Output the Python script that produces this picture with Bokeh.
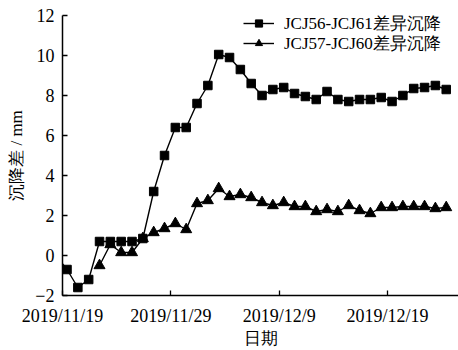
import pandas as pd
from bokeh.plotting import figure
from bokeh.models import Range1d, FixedTicker, CustomJSTickFormatter, Legend, LegendItem
from bokeh.embed import file_html
from bokeh.resources import INLINE

# ---- data ----
dates = list(pd.date_range("2019-11-18 10:00", periods=37, freq="D"))
s1_name = "JCJ56-JCJ61差异沉降"
s1_vals = [0.0, -0.7, -1.6, -1.2, 0.7, 0.7, 0.7, 0.7, 0.85, 3.2, 5.0, 6.4, 6.4, 7.6, 8.5,
           10.05, 9.9, 9.3, 8.6, 8.0, 8.3, 8.4, 8.1, 7.95, 7.8, 8.2, 7.8, 7.7, 7.8, 7.8,
           7.9, 7.7, 8.0, 8.35, 8.4, 8.5, 8.3]
s2_name = "JCJ57-JCJ60差异沉降"
s2_dates = dates[4:]
s2_vals = [-0.5, 0.55, 0.15, 0.15, 0.85, 1.15, 1.35, 1.6, 1.3, 2.6, 2.75, 3.35, 2.95, 3.05,
           2.9, 2.65, 2.5, 2.65, 2.45, 2.45, 2.2, 2.3, 2.2, 2.5, 2.25, 2.1, 2.4, 2.4, 2.45,
           2.45, 2.45, 2.35, 2.4]
x_tick_dates = ["2019-11-19", "2019-11-29", "2019-12-09", "2019-12-19"]
y_ticks = [-2, 0, 2, 4, 6, 8, 10, 12]
x_label = "日期"
y_label = "沉降差 / mm"

font = "Liberation Serif"

x_start = pd.Timestamp("2019-11-19 00:00")
x_end = x_start + pd.Timedelta(days=36.55)

p = figure(width=458, height=350, x_axis_type="datetime",
           x_range=Range1d(x_start, x_end), y_range=Range1d(-2, 12),
           output_backend="svg", toolbar_location=None,
           min_border_left=62, min_border_right=0, min_border_top=15, min_border_bottom=55)
p.outline_line_color = None
p.grid.visible = False
p.background_fill_color = "white"
p.border_fill_color = "white"

r1 = p.line(dates, s1_vals, line_color="black", line_width=1.4)
m1 = p.scatter(dates, s1_vals, marker="square", size=8.5, fill_color="black", line_color="black")
r2 = p.line(s2_dates, s2_vals, line_color="black", line_width=1.4)
m2 = p.scatter(s2_dates, s2_vals, marker="triangle", size=11, fill_color="black", line_color="black")

xt = [pd.Timestamp(d).value / 1e6 for d in x_tick_dates]
p.xaxis.ticker = FixedTicker(ticks=xt)
p.xaxis.formatter = CustomJSTickFormatter(code="""
const d = new Date(tick);
return d.getUTCFullYear() + "/" + (d.getUTCMonth() + 1) + "/" + d.getUTCDate();
""")
p.yaxis.ticker = FixedTicker(ticks=y_ticks)
p.yaxis.formatter = CustomJSTickFormatter(code="""
return tick < 0 ? "\\u2212" + Math.abs(tick) : String(tick);
""")

for ax in (p.xaxis[0], p.yaxis[0]):
    ax.axis_line_color = "black"
    ax.axis_line_width = 1.5
    ax.major_tick_in = 5
    ax.major_tick_out = 0
    ax.major_tick_line_color = "black"
    ax.major_tick_line_width = 1.3
    ax.minor_tick_line_color = None
    ax.major_label_text_font = font
    ax.major_label_text_font_size = "18px"
    ax.major_label_text_color = "black"
    ax.axis_label_text_font = font
    ax.axis_label_text_font_size = "17px"
    ax.axis_label_text_font_style = "normal"
    ax.axis_label_text_color = "black"

p.xaxis.axis_label = x_label
p.yaxis.axis_label = y_label
p.xaxis.major_label_standoff = 10
p.xaxis.axis_label_standoff = 0
p.yaxis.major_label_standoff = 8
p.yaxis.axis_label_standoff = 6

def make_legend(name, rends, bottom_y):
    lg = Legend(items=[LegendItem(label=name, renderers=rends)], location=(181, bottom_y))
    lg.background_fill_alpha = 0
    lg.border_line_color = None
    lg.margin = 0
    lg.padding = 0
    lg.spacing = 0
    lg.glyph_width = 31
    lg.glyph_height = 18
    lg.label_height = 26
    lg.label_standoff = 10
    lg.label_text_font = font
    lg.label_text_font_size = "17px"
    lg.label_text_color = "black"
    return lg

p.add_layout(make_legend(s1_name, [r1, m1], 259))
p.add_layout(make_legend(s2_name, [r2, m2], 239))

open("out.html", "w").write(file_html(p, INLINE))
